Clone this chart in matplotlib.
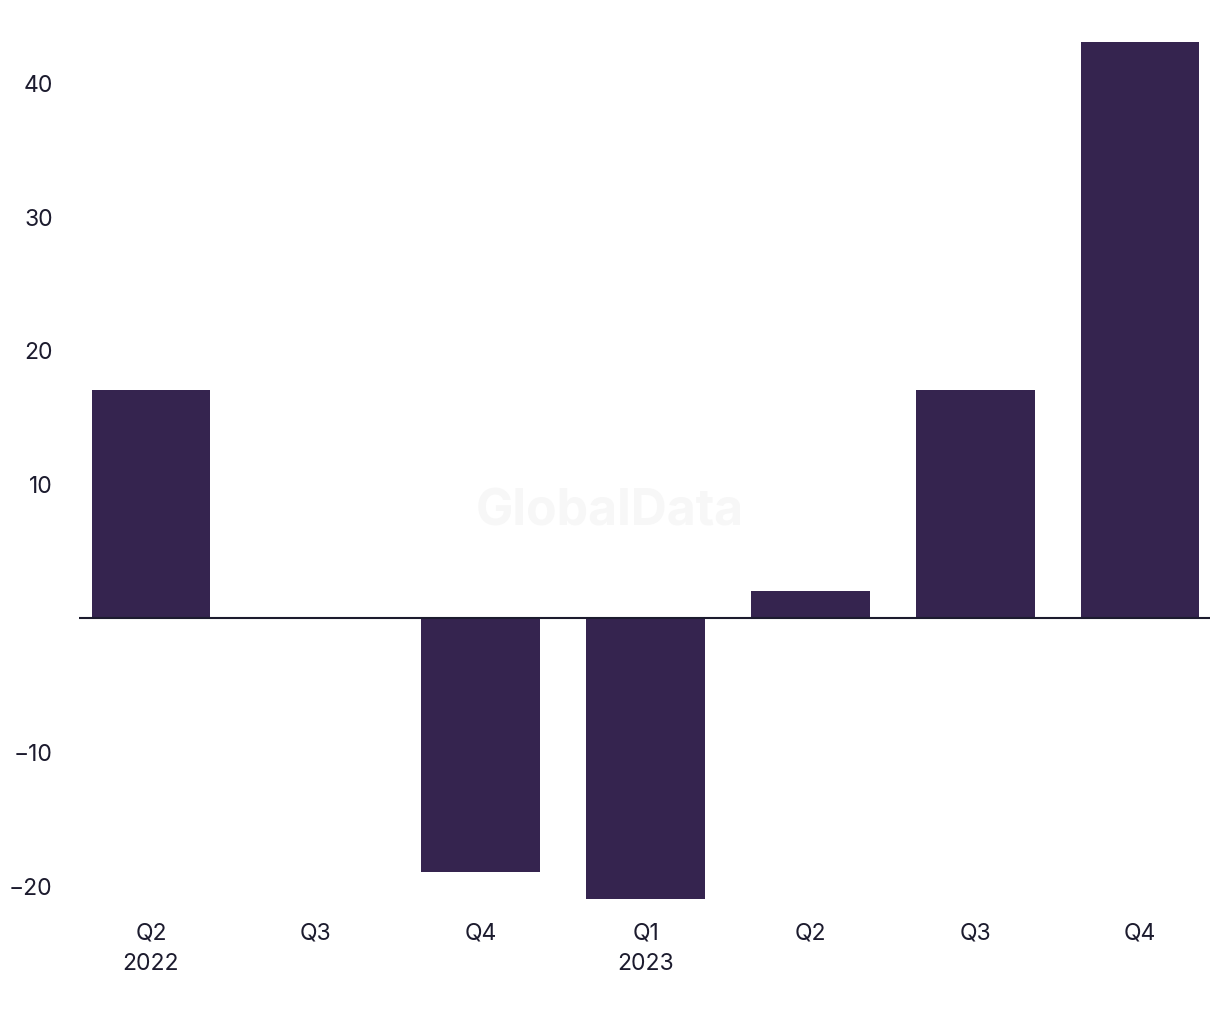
import matplotlib.pyplot as plt

plt.rcParams['font.family'] = ['Inter', 'DejaVu Sans']

quarters = ["Q2\n2022", "Q3", "Q4", "Q1\n2023", "Q2", "Q3", "Q4"]
values = [17, 0, -19, -21, 2, 17, 43]
yticks = [-20, -10, 10, 20, 30, 40]

bar_color = "#35244f"
text_color = "#1c1b2e"

fig = plt.figure(figsize=(12.2, 10.2), dpi=100, facecolor="white")
ax = fig.add_axes([0.0648, 0.1108, 0.927, 0.8866])

x = range(len(quarters))
ax.bar(x, values, width=0.72, color=bar_color, zorder=2)
ax.axhline(0, color=text_color, linewidth=1.5, zorder=3)

ax.set_xlim(-0.436, 6.424)
ax.set_ylim(-21.5, 46)
ax.set_xticks(list(x))
ax.set_xticklabels(quarters, fontsize=16.5, color=text_color, linespacing=1.5)
ax.set_yticks(yticks)
ax.set_yticklabels([f"\u2212{abs(v)}" if v < 0 else str(v) for v in yticks],
                   fontsize=16.5, color=text_color)
ax.tick_params(axis="both", length=0)
ax.tick_params(axis="y", pad=19)
ax.tick_params(axis="x", pad=11)
for s in ax.spines.values():
    s.set_visible(False)

fig.text(0.5, 0.498, "GlobalData", fontsize=36, fontweight="bold",
         color="#f7f7f7", ha="center", va="center", zorder=0)

fig.savefig("out.png", dpi=100, facecolor="white")
